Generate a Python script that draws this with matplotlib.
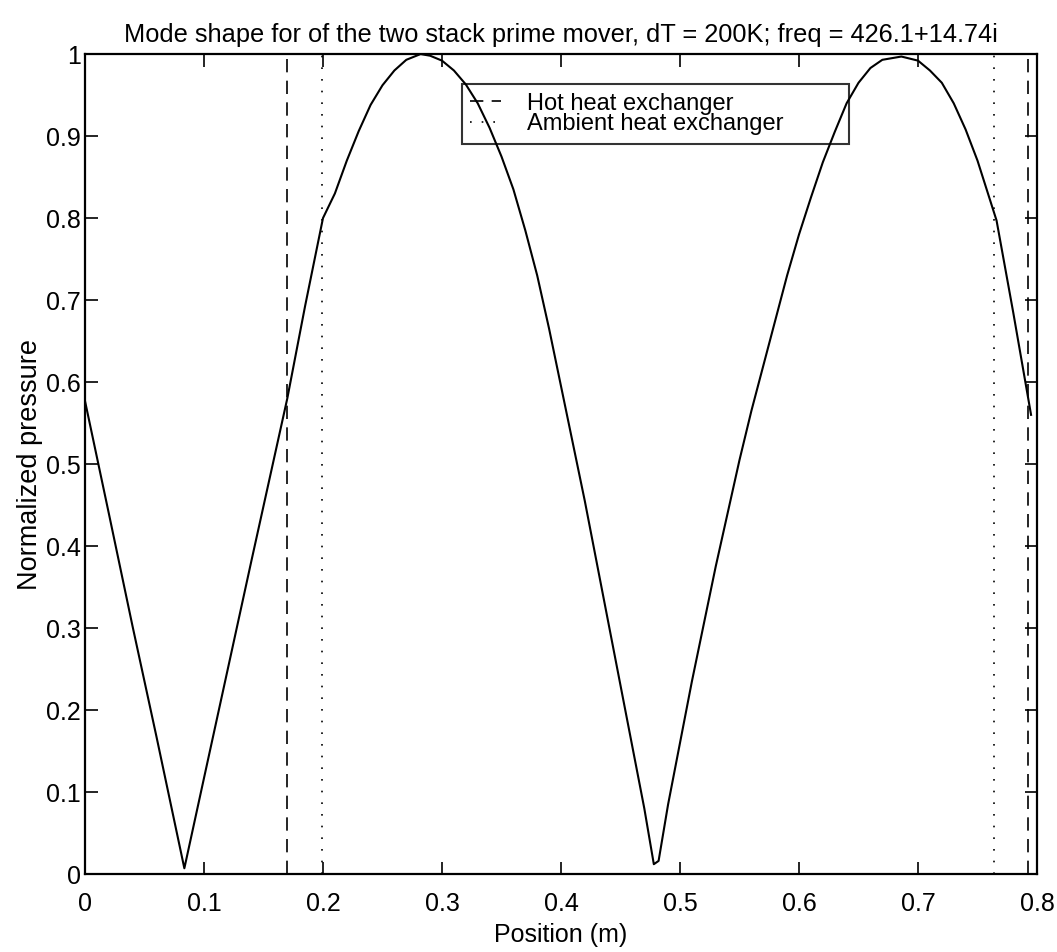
import matplotlib.pyplot as plt
from matplotlib.ticker import FuncFormatter

plt.rcParams['font.family'] = ['Liberation Sans', 'DejaVu Sans']

# mode shape
position = [0.0, 0.02, 0.04, 0.06, 0.0835, 0.10, 0.12, 0.14, 0.17, 0.185,
            0.20, 0.205, 0.21, 0.22, 0.23, 0.24, 0.25, 0.26, 0.27, 0.282,
            0.29, 0.30, 0.31, 0.32, 0.33, 0.34, 0.35, 0.36, 0.37, 0.38,
            0.39, 0.40, 0.41, 0.42, 0.43, 0.44, 0.45, 0.46, 0.47, 0.478,
            0.482, 0.49, 0.50, 0.51, 0.52, 0.53, 0.54, 0.55, 0.56, 0.57,
            0.58, 0.59, 0.60, 0.61, 0.62, 0.63, 0.64, 0.65, 0.66, 0.67,
            0.686, 0.70, 0.71, 0.72, 0.73, 0.74, 0.75, 0.766, 0.78, 0.795]
pressure = [0.577, 0.44, 0.302, 0.168, 0.007, 0.117, 0.25, 0.383, 0.58, 0.693,
            0.80, 0.815, 0.83, 0.87, 0.906, 0.938, 0.962, 0.98, 0.993, 1.0,
            0.998, 0.992, 0.98, 0.963, 0.94, 0.91, 0.875, 0.835, 0.785, 0.73,
            0.665, 0.595, 0.525, 0.455, 0.38, 0.305, 0.23, 0.155, 0.08, 0.012,
            0.016, 0.085, 0.16, 0.235, 0.305, 0.375, 0.44, 0.505, 0.565, 0.62,
            0.675, 0.73, 0.78, 0.825, 0.868, 0.905, 0.94, 0.965, 0.983, 0.993,
            0.997, 0.992, 0.98, 0.965, 0.94, 0.908, 0.87, 0.797, 0.685, 0.56]

hot_hx = [0.17, 0.7927]
ambient_hx = [0.199, 0.7636]

title = 'Mode shape for of the two stack prime mover, dT = 200K; freq = 426.1+14.74i'

fig = plt.figure(figsize=(10.57, 9.52), dpi=100)
ax = fig.add_axes([0.0804, 0.0819, 0.9007, 0.8613])

ax.plot(position, pressure, color='black', lw=1.5)
for i, xv in enumerate(hot_hx):
    ax.plot([xv, xv], [0, 1], color='black', lw=1.2, linestyle=(0, (8, 5)),
            label='Hot heat exchanger' if i == 0 else None)
for i, xv in enumerate(ambient_hx):
    ax.plot([xv, xv], [0, 1], color='black', lw=1.2, linestyle=(0, (1, 6)),
            label='Ambient heat exchanger' if i == 0 else None)

ax.set_xlim(0, 0.8)
ax.set_ylim(0, 1)
ax.set_xticks([i / 10 for i in range(9)])
ax.set_yticks([i / 10 for i in range(11)])
fmt = FuncFormatter(lambda v, p: '%g' % round(v, 2))
ax.xaxis.set_major_formatter(fmt)
ax.yaxis.set_major_formatter(fmt)
ax.tick_params(direction='in', top=True, right=True, length=9, width=1.2,
               labelsize=18)
ax.tick_params(axis='x', pad=13)
ax.tick_params(axis='y', pad=3)
for s in ax.spines.values():
    s.set_linewidth(1.6)

ax.set_title(title, fontsize=18.3, pad=9)
ax.set_xlabel('Position (m)', fontsize=18, labelpad=5)
ax.set_ylabel('Normalized pressure', fontsize=19.5, labelpad=2)

leg = ax.legend(loc='upper left', bbox_to_anchor=(0.396, 0.885, 0.4065, 0.078),
                mode='expand', borderaxespad=0, fontsize=17, handlelength=1.3,
                handletextpad=1.1, labelspacing=-0.05, borderpad=0.35,
                fancybox=False, edgecolor='black', facecolor='none')
leg.get_frame().set_linewidth(1.5)

fig.savefig('out.png', dpi=100)
